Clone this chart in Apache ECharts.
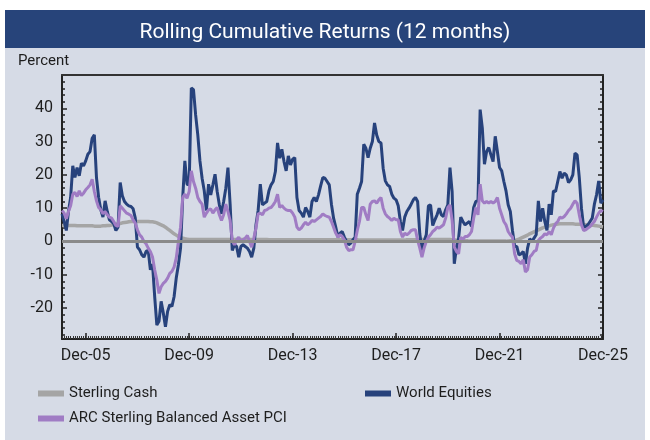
<!DOCTYPE html>
<html>
<head>
<meta charset="utf-8">
<script src="https://cdn.jsdelivr.net/npm/echarts@6/dist/echarts.min.js"></script>
<style>
html, body { margin: 0; padding: 0; background: #ffffff; }
#wrap { position: relative; width: 650px; height: 440px; }
#panel { position: absolute; left: 5px; top: 48px; width: 640px; height: 392px; background: #d6dbe6; }
#bar { position: absolute; left: 5px; top: 10px; width: 640px; height: 38px; background: #27447a; }
#chart { position: absolute; left: 0; top: 0; width: 650px; height: 440px; }
</style>
</head>
<body>
<div id="wrap">
  <div id="panel"></div>
  <div id="bar"></div>
  <div id="chart"></div>
</div>
<script>
// monthly categories Jan-05 .. Dec-25
var monthNames = ['Jan','Feb','Mar','Apr','May','Jun','Jul','Aug','Sep','Oct','Nov','Dec'];
var firstYear = 2005, lastYear = 2025;
var months = [];
for (var y = firstYear; y <= lastYear; y++) {
    for (var m = 0; m < 12; m++) {
        months.push(monthNames[m] + '-' + String(y).slice(2));
    }
}
var tickLabels = ['Dec-05','Dec-09','Dec-13','Dec-17','Dec-21','Dec-25'];
var yMajor = [-20, -10, 0, 10, 20, 30, 40];
var yMinor = [-28,-26,-24,-22,-18,-16,-14,-12,-8,-6,-4,-2,2,4,6,8,12,14,16,18,22,24,26,28,32,34,36,38,42,44,46,48];

var sterlingCash = [
    4.8,4.8,4.8,4.8,4.8,4.8,4.8,4.7,4.7,4.7,4.7,4.7,
    4.7,4.7,4.7,4.6,4.6,4.6,4.6,4.7,4.7,4.8,4.8,4.9,
    5.0,5.1,5.3,5.4,5.6,5.7,5.8,5.9,6.0,6.0,6.0,6.0,
    6.0,6.0,6.0,6.0,6.0,5.9,5.9,5.8,5.6,5.3,5.0,4.7,
    4.3,3.8,3.3,2.8,2.3,1.9,1.5,1.2,1.0,0.8,0.7,0.6,
    0.6,0.6,0.6,0.6,0.6,0.6,0.6,0.6,0.6,0.6,0.6,0.6,
    0.6,0.6,0.6,0.6,0.6,0.6,0.6,0.6,0.6,0.6,0.6,0.6,
    0.6,0.6,0.6,0.6,0.6,0.6,0.6,0.6,0.6,0.6,0.6,0.6,
    0.5,0.5,0.5,0.5,0.5,0.5,0.5,0.5,0.5,0.5,0.5,0.5,
    0.5,0.5,0.5,0.5,0.5,0.5,0.5,0.5,0.5,0.5,0.5,0.5,
    0.5,0.5,0.5,0.5,0.5,0.5,0.5,0.5,0.5,0.5,0.5,0.5,
    0.5,0.5,0.5,0.5,0.5,0.5,0.4,0.4,0.4,0.4,0.4,0.4,
    0.4,0.4,0.4,0.4,0.4,0.4,0.4,0.4,0.4,0.4,0.4,0.4,
    0.4,0.4,0.4,0.4,0.5,0.5,0.5,0.5,0.5,0.5,0.6,0.6,
    0.6,0.6,0.6,0.6,0.6,0.6,0.6,0.6,0.6,0.6,0.6,0.6,
    0.6,0.5,0.5,0.4,0.3,0.3,0.2,0.2,0.2,0.1,0.1,0.1,
    0.1,0.1,0.1,0.1,0.1,0.1,0.1,0.1,0.1,0.1,0.1,0.1,
    0.1,0.1,0.1,0.15,0.2,0.25,0.3,0.45,0.7,1.0,1.3,1.6,
    1.9,2.3,2.6,2.9,3.2,3.5,3.8,4.1,4.3,4.5,4.7,4.9,
    5.0,5.1,5.2,5.3,5.3,5.3,5.3,5.3,5.3,5.3,5.2,5.2,
    5.2,5.1,5.1,5.0,5.0,4.9,4.9,4.8,4.7,4.6,4.5,4.4
];

var worldEquities = [
    8.3,6,3.3,9,13.2,22.7,19.2,22.2,19.7,23.5,22.7,24.2,
    26.2,27,31,32,19.2,13.2,9.5,7.3,12.2,9,6.5,6,
    5.3,3.3,4.3,17.7,13.7,12,11.2,10.7,10.5,9.8,7,-1.7,
    -2.5,-4,-4.7,-3,-2.7,-8.5,-6.8,-16.6,-25.1,-24,-18,-21.5,
    -25.6,-21,-19,-19.5,-16.6,-11,-7,-2,13.2,24.2,17.2,17,
    46.1,45.6,38,32,24.2,19,15.2,9.3,17.2,14,17,20.2,
    15,11,8.3,12,16,22.2,11.2,-2.7,-1,-1.5,-4.7,-1.5,
    -1,-1.5,-2,-3,-4.7,-2,5,9.3,17.2,11,11.5,12,
    15.2,17,18,21,29.6,25,27.7,24,21.2,25.7,23,24.7,
    25.2,13.2,9.3,8.5,7.3,10.2,9,7.3,12,13.2,12,14,
    16.7,19.2,19,18,17,11.2,7,4.3,1.3,2.5,3,1.3,
    0,-1,-0.5,0.5,1.3,14.2,16,18,29.2,28,25.2,28,
    30,35.6,32,30,29.6,22,18.2,17,16.5,14.2,13,12.5,
    10.7,6,3.3,7.3,9,10,11.2,12.5,13.2,12,2.3,-2.7,
    0,2,10.7,11,4.8,6.5,8,10,8,7.5,9.5,11,
    22.2,15,-6.7,-2,1,7.3,6,5,5.5,6,4.5,10.2,
    12,12.2,39.6,34.1,23.2,27,28.2,26,24,31.6,27,22.2,
    21.2,18,15.2,11,9,3.3,-1.5,-1.5,-4,-3.7,-3,-6.7,
    -2,0.8,0,1,2,12.2,6,10,6,3.3,11.2,8,
    15.2,15,18,21,19,20.5,20,17.7,18.5,20,26.5,26,
    19.2,10,4.3,4.5,5,6,7,11.2,14,18.2,11.5,12.5
];

var arcBalanced = [
    9.3,8.5,6.8,9,10.7,14.2,14.7,13.5,15.2,13.8,14.5,15.5,
    16.2,17,18.7,15,12.2,10.2,9.5,8.3,9,8,7.3,7,
    6,4.8,4.5,10.7,10,9.2,8.5,8.2,7.8,6.5,5.5,3.5,
    2,1.3,0,-0.7,-2,-3,-4.7,-8.5,-11.6,-15.6,-13.6,-12.6,
    -12,-11,-9.6,-9,-7.7,-5,0,4.3,13.2,14.2,13,15,
    21.2,18,16,13.2,12,11.2,7.3,8.5,9.5,9.8,8.5,9.5,
    10.2,8,6.3,8,11.2,9,6.3,0.3,-1,0.5,1.3,0,
    0.5,1,1.8,0,-1.7,1,4,8.3,8.5,8,9.3,9.5,
    10,10.2,11,12,14.2,10.2,10.8,10,9.5,9.3,9.3,8.5,
    7.3,4.3,3.5,4,5,5.8,5,5.5,6.3,6,6.5,7,
    7.5,8.3,7.8,7.5,7.3,6,4.3,2.5,1.3,2,1.5,0.5,
    -1.7,-2.7,-2.5,-2.5,0,3.3,6,10.2,10.2,8,6.3,11.2,
    12,12.2,11.5,12.5,13.2,10,8.3,7.5,7,6.3,7,6.5,
    6.5,3,1.3,2.5,2,2.5,3.3,3.5,3.5,0.3,-2,-4.7,
    -2,0,1.3,2,3,3.5,4.3,4,4.5,5,7,10.2,
    11,6.3,-1.7,-3,-3.7,1.3,0.5,1.5,1.5,2,3,7,
    10.2,8,17.2,12.2,11.5,12,11.5,12,11.5,12,13.2,10,
    8,6,5,3,2,1.3,-3.7,-5.7,-6,-6.7,-5.5,-9.2,
    -8.5,-4.7,-4,-3,-2.7,0.3,1,1.5,2.3,2,3,2,
    4,5.3,6,7.3,7,7.5,8.3,9.3,10,11.2,12.2,11.5,
    8,5,3.3,3.5,4,4.5,5.3,6,7.3,8.5,9.3,9
];

var FONT = 'Roboto';
var INK = '#1e1e1e';
var chart = echarts.init(document.getElementById('chart'), null, {renderer: 'canvas'});

function isTickLabel(index, value) {
    return tickLabels.indexOf(value) >= 0;
}

function yAxisOf(pos, ticks, len, showLine, showLabel) {
    return {
        type: 'value',
        position: pos,
        min: -29.3,
        max: 50,
        axisLine: {show: showLine, lineStyle: {color: '#222', width: 2}},
        axisTick: {show: true, inside: true, length: len, customValues: ticks,
                   lineStyle: {color: '#222', width: 1.5}},
        axisLabel: {show: showLabel, customValues: ticks, margin: 9,
                    fontFamily: FONT, fontSize: 16, color: INK},
        splitLine: {show: false}
    };
}

var legendBase = {
    orient: 'vertical', itemGap: 10,
    icon: 'rect', itemWidth: 26, itemHeight: 6,
    lineStyle: {width: 6, cap: 'butt'},
    textStyle: {fontFamily: FONT, fontSize: 15, color: INK}
};

var option = {
    animation: false,
    backgroundColor: 'transparent',
    title: {
        text: 'Rolling Cumulative Returns (12 months)',
        left: 'center',
        top: 17,
        textStyle: {color: '#ffffff', fontFamily: FONT, fontSize: 21, fontWeight: 'normal'}
    },
    graphic: [{
        type: 'text',
        left: 18,
        top: 54,
        style: {text: 'Percent', fontFamily: FONT, fontSize: 15, fill: INK}
    }],
    legend: [
        Object.assign({left: 33, top: 381, data: ['Sterling Cash', 'ARC Sterling Balanced Asset PCI']}, legendBase),
        Object.assign({left: 360, top: 381, data: ['World Equities']}, legendBase)
    ],
    grid: {left: 62, right: 47, top: 75, bottom: 101, containLabel: false},
    xAxis: [{
        type: 'category', data: months, boundaryGap: false, position: 'bottom',
        axisLine: {onZero: false, lineStyle: {color: '#222', width: 2}},
        axisTick: {inside: true, interval: 0, length: 3, lineStyle: {color: '#333', width: 1}},
        axisLabel: {show: false},
        splitLine: {show: false}
    }, {
        type: 'category', data: months, boundaryGap: false, position: 'bottom',
        axisLine: {show: false, onZero: false},
        axisTick: {inside: true, interval: isTickLabel, length: 6, lineStyle: {color: '#222', width: 1.5}},
        axisLabel: {interval: isTickLabel, margin: 9, fontFamily: FONT, fontSize: 16, color: INK},
        splitLine: {show: false}
    }, {
        type: 'category', data: months, boundaryGap: false, position: 'top',
        axisLine: {onZero: false, lineStyle: {color: '#333', width: 2}},
        axisTick: {show: false},
        axisLabel: {show: false},
        splitLine: {show: false}
    }],
    yAxis: [
        yAxisOf('left', yMajor, 5, true, true),
        yAxisOf('left', yMinor, 3, false, false),
        yAxisOf('right', yMajor, 5, true, false),
        yAxisOf('right', yMinor, 3, false, false)
    ],
    series: [{
        name: 'Sterling Cash',
        type: 'line',
        data: sterlingCash,
        color: '#a5a5a5',
        symbol: 'none',
        lineStyle: {width: 3.5, color: '#a5a5a5'},
        markLine: {
            silent: true,
            symbol: ['none', 'none'],
            label: {show: false},
            lineStyle: {color: '#8a8a8a', width: 3, type: 'solid'},
            data: [{yAxis: 0}]
        }
    }, {
        name: 'World Equities',
        type: 'line',
        data: worldEquities,
        color: '#27427c',
        symbol: 'none',
        lineStyle: {width: 3, color: '#27427c'}
    }, {
        name: 'ARC Sterling Balanced Asset PCI',
        type: 'line',
        data: arcBalanced,
        color: '#a07cc4',
        symbol: 'none',
        lineStyle: {width: 3, color: '#a07cc4'}
    }]
};
chart.setOption(option);
</script>
</body>
</html>
